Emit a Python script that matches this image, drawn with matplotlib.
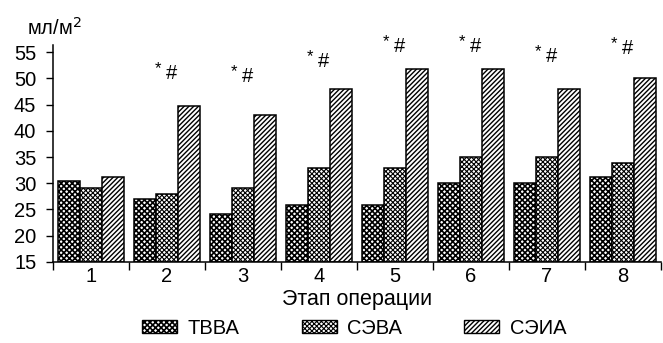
import matplotlib
matplotlib.use("Agg")
import matplotlib.pyplot as plt
import numpy as np
from matplotlib.patches import Patch

plt.rcParams['font.family'] = ['Liberation Sans', 'DejaVu Sans']
plt.rcParams['hatch.linewidth'] = 1.0

stages = ['1', '2', '3', '4', '5', '6', '7', '8']
series_names = ['ТВВА', 'СЭВА', 'СЭИА']
tvva = [30.4, 26.9, 24.1, 25.9, 25.9, 30.0, 30.0, 31.2]
seva = [29.0, 27.9, 29.0, 32.9, 32.9, 35.0, 35.0, 33.9]
seia = [31.1, 44.8, 43.0, 48.0, 51.9, 51.9, 48.0, 50.1]
has_mark = [False, True, True, True, True, True, True, True]
mark_y = [0, 50.9, 50.4, 53.2, 56.1, 56.1, 54.2, 55.7]
yticks = [15, 20, 25, 30, 35, 40, 45, 50, 55]

hatches = ['xxxxxx', 'xxxxxxx', '///////']
hatch_lw = [1.2, 0.8, 1.0]


def set_hlw(artist, lw):
    if hasattr(artist, 'set_hatch_linewidth'):
        artist.set_hatch_linewidth(lw)


fig = plt.figure(figsize=(6.63, 3.43), dpi=100)
ax = fig.add_axes([53/663, 1-261.7/343, (661-53)/663, (261.7-45)/343])

x = np.arange(len(stages))
w = 0.29
for i, (vals, h, hl) in enumerate(zip([tvva, seva, seia], hatches, hatch_lw)):
    plt.rcParams['hatch.linewidth'] = hl
    bars = ax.bar(x + (i-1)*w, np.array(vals) - 15, bottom=15, width=w, color='white',
                  edgecolor='black', linewidth=1.1, hatch=h, zorder=2)
    for b in bars:
        set_hlw(b, hl)
plt.rcParams['hatch.linewidth'] = 1.0

for xi, m, my in zip(x, has_mark, mark_y):
    if m:
        ax.text(xi + 0.06, my, '#', ha='center', va='center', fontsize=14.5, clip_on=False)
        ax.text(xi - 0.12, my + 1.0, '*', ha='center', va='center', fontsize=12, clip_on=False)

ax.set_xlim(-0.5, len(stages) - 0.5)
ax.set_ylim(15, 56.4)
ax.set_yticks(yticks)
ax.set_yticklabels([str(t) for t in yticks], fontsize=14.5)
ax.set_xticks(x)
ax.set_xticklabels(stages, fontsize=14.5)
ax.set_xticks(np.arange(len(stages)+1) - 0.5, minor=True)
ax.tick_params(axis='x', which='major', length=0, pad=4)
ax.tick_params(axis='x', which='minor', length=6, width=1, direction='out')
ax.tick_params(axis='y', length=5, width=1, direction='out', pad=7)
for s in ['top', 'right']:
    ax.spines[s].set_visible(False)
for s in ['left', 'bottom']:
    ax.spines[s].set_linewidth(1.1)

ax.set_xlabel('Этап операции', fontsize=15.5, labelpad=2)
fig.text(27/663, 1-35/343, 'мл/м$^2$', fontsize=14.5, va='baseline', ha='left')

handles = []
for h, hl in zip(hatches, hatch_lw):
    plt.rcParams['hatch.linewidth'] = hl
    p = Patch(facecolor='white', edgecolor='black', hatch=h, linewidth=1.0)
    set_hlw(p, hl)
    handles.append(p)
plt.rcParams['hatch.linewidth'] = 1.0
leg = fig.legend(handles, series_names, loc='center', bbox_to_anchor=(354/663, 1-328.5/343),
                 ncol=3, frameon=False, fontsize=14.5, handlelength=1.75, handleheight=0.62,
                 handletextpad=0.5, columnspacing=3.1, borderpad=0, borderaxespad=0)
for p, hl in zip(leg.get_patches(), hatch_lw):
    set_hlw(p, hl)

fig.savefig('out.png', dpi=100)
